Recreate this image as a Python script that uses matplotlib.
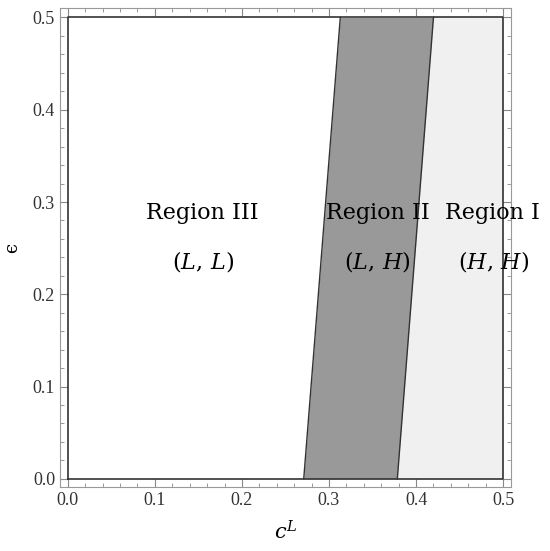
import numpy as np
import matplotlib
matplotlib.use("Agg")
import matplotlib.pyplot as plt
from matplotlib.ticker import MultipleLocator

# boundary lines (c^L at eps=0 and eps=0.5)
eps = [0.0, 0.5]
b1 = [0.271, 0.313]
b2 = [0.3785, 0.420]
xmax = 0.5

labels = ["Region III", "Region II", "Region I"]
pairs = [r"$(L,\,L)$", r"$(L,\,H)$", r"$(H,\,H)$"]
label_x = [0.155, 0.356, 0.433]
pair_x = [0.155, 0.356, 0.489]

plt.rcParams['font.family'] = ['DejaVu Serif']
plt.rcParams['mathtext.fontset'] = 'dejavuserif'

fig = plt.figure(figsize=(5.5, 5.51), dpi=100)
ax = fig.add_axes([0.109, 0.116, 0.82, 0.869])

ax.fill_betweenx(eps, [0, 0], b1, color="white", lw=0)
ax.fill_betweenx(eps, b1, b2, color="#999999", lw=0)
ax.fill_betweenx(eps, b2, [xmax, xmax], color="#f0f0f0", lw=0)
ax.plot(b1, eps, color="#333333", lw=1)
ax.plot(b2, eps, color="#333333", lw=1)
ax.plot([0, xmax, xmax, 0, 0], [0, 0, 0.5, 0.5, 0], color="#333333", lw=1.2)

for lx, t in zip(label_x, labels):
    ha = "left" if t == "Region I" else "center"
    ax.text(lx, 0.288, t, ha=ha, va="center", fontsize=16, clip_on=False)
for px, t in zip(pair_x, pairs):
    ax.text(px, 0.235, t, ha="center", va="center", fontsize=16)

ax.set_xlim(-0.009, 0.509)
ax.set_ylim(-0.009, 0.51)
ax.xaxis.set_major_locator(MultipleLocator(0.1))
ax.xaxis.set_minor_locator(MultipleLocator(0.02))
ax.yaxis.set_major_locator(MultipleLocator(0.1))
ax.yaxis.set_minor_locator(MultipleLocator(0.02))
ax.xaxis.set_major_formatter(plt.FormatStrFormatter("%.1f"))
ax.yaxis.set_major_formatter(plt.FormatStrFormatter("%.1f"))
ax.tick_params(which="both", direction="in", top=True, right=True, color="#888888",
               labelsize=13, labelcolor="#333333")
ax.tick_params(which="major", length=6)
ax.tick_params(which="minor", length=3)
for lab in ax.get_xticklabels() + ax.get_yticklabels():
    lab.set_family("Liberation Serif")
for s in ax.spines.values():
    s.set_color("#999999")

ax.set_xlabel(r"$c^{L}$", fontsize=15, labelpad=8)
ax.set_ylabel("\u03f5", fontsize=13, labelpad=8)

fig.savefig("out.png", dpi=100)
